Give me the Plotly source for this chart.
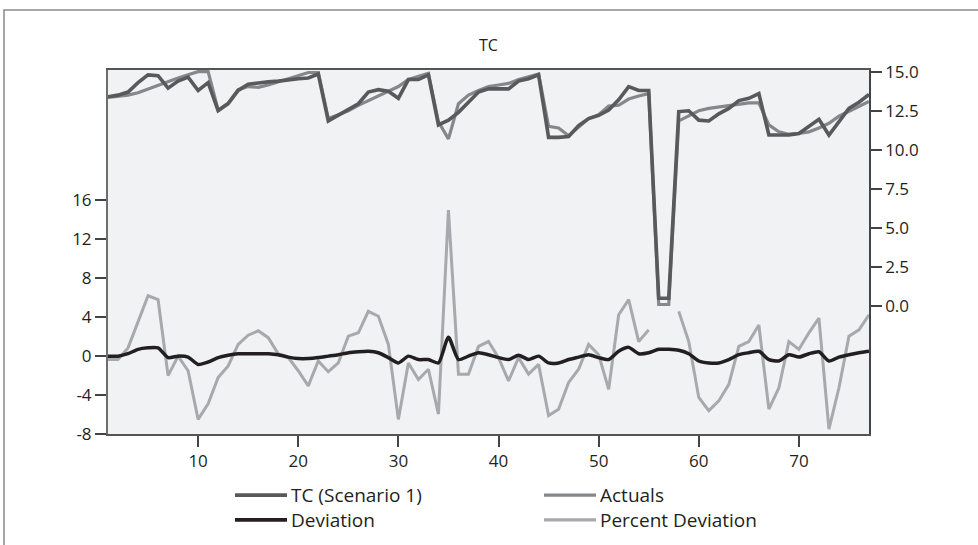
import plotly.graph_objects as go

# ---------------- data ----------------
x_vals = list(range(1, 78))

tc_scenario1 = [
    13.4, 13.5, 13.7, 14.3, 14.8, 14.75, 13.95, 14.4, 14.65, 13.8,
    14.3, 12.5, 12.95, 13.8, 14.2, 14.3, 14.35, 14.4, 14.5, 14.55,
    14.6, 14.85, 11.85, 12.2, 12.6, 12.95, 13.7, 13.85, 13.75, 13.3,
    14.5, 14.5, 14.8, 11.6, 11.9, 12.4, 13.05, 13.7, 13.9, 13.9,
    13.9, 14.4, 14.55, 14.8, 10.8, 10.8, 10.85, 11.55, 12.0, 12.2,
    12.55, 13.2, 14.05, 13.8, 13.8, 0.5, 0.5, 12.45, 12.5, 11.9,
    11.85, 12.3, 12.65, 13.15, 13.3, 13.6, 10.95, 10.95, 10.95, 11.05,
    11.5, 11.95, 10.95, 11.8, 12.65, 13.05, 13.55,
]

actuals = [
    13.35, 13.4, 13.5, 13.65, 13.9, 14.15, 14.35, 14.6, 14.8, 15.0,
    15.0, 12.55, 13.0, 13.85, 14.05, 14.0, 14.15, 14.35, 14.55, 14.8,
    14.95, 14.95, 12.0, 12.25, 12.5, 12.85, 13.15, 13.4, 13.7, 14.05,
    14.5, 14.7, 14.9, 11.8, 10.7, 12.95, 13.5, 13.8, 14.05, 14.15,
    14.25, 14.5, 14.7, 14.85, 11.5, 11.4, 10.9, 11.45, 12.0, 12.25,
    12.8, 12.85, 13.25, 13.45, 13.6, 0.1, 0.1, 11.85, 12.2, 12.5,
    12.65, 12.75, 12.85, 12.95, 13.0, 13.0, 11.6, 11.15, 11.0, 11.05,
    11.15, 11.4, 11.7, 12.15, 12.45, 12.75, 13.1,
]

deviation = [
    0.0, 0.0, 0.25, 0.7, 0.85, 0.85, -0.15, 0.0, -0.1, -0.85,
    -0.6, -0.15, 0.1, 0.25, 0.25, 0.25, 0.25, 0.15, -0.1, -0.25,
    -0.25, -0.15, 0.0, 0.15, 0.35, 0.45, 0.5, 0.35, -0.15, -0.7,
    0.0, -0.35, -0.35, -0.7, 1.95, -0.35, 0.0, 0.35, 0.15, -0.15,
    -0.35, 0.1, -0.35, 0.0, -0.7, -0.7, -0.35, -0.1, 0.15, -0.15,
    -0.35, 0.5, 0.9, 0.25, 0.35, 0.7, 0.7, 0.6, 0.25, -0.5,
    -0.7, -0.7, -0.35, 0.15, 0.35, 0.5, -0.35, -0.5, 0.15, -0.1,
    0.25, 0.45, -0.5, -0.1, 0.15, 0.35, 0.5,
]

percent_deviation = [
    -0.35, -0.35, 0.85, 3.6, 6.2, 5.8, -2.0, 0.0, -1.5, -6.5,
    -4.9, -2.2, -1.0, 1.2, 2.15, 2.6, 1.9, 0.25, -0.15, -1.5,
    -3.05, -0.5, -1.6, -0.7, 2.05, 2.4, 4.6, 4.1, 1.2, -6.5,
    -0.7, -2.4, -1.35, -5.95, 15.0, -1.85, -1.85, 1.0, 1.5, -0.15,
    -2.55, -0.15, -1.85, -0.85, -6.1, -5.45, -2.7, -1.35, 1.2, 0.15,
    -3.4, 4.25, 5.8, 1.5, 2.7, None, None, 4.6, 1.5, -4.25,
    -5.6, -4.6, -2.9, 1.0, 1.5, 3.2, -5.45, -3.25, 1.5, 0.7,
    2.4, 3.9, -7.5, -3.25, 2.05, 2.7, 4.25,
]

x_ticks = [10, 20, 30, 40, 50, 60, 70]
left_ticks = [-8, -4, 0, 4, 8, 12, 16]
left_tick_labels = ["-8", "-4", "0", "4", "8", "12", "16"]
right_ticks = [0, 2.5, 5, 7.5, 10, 12.5, 15]
right_tick_labels = ["0.0", "2.5", "5.0", "7.5", "10.0", "12.5", "15.0"]

series_names = ["TC (Scenario 1)", "Actuals", "Deviation", "Percent Deviation"]

# ---------------- styles ----------------
FONT = "Open Sans"
TXT = "#231f20"
C_TC = "#58595b"
C_ACT = "#86878a"
C_DEV = "#231f20"
C_PCT = "#a7a9ac"

W, H = 978, 545
L, R, T, B = 108, 869, 70, 434


def pxx(v):
    return (v - L) / (R - L)


def pxy(v):
    return (B - v) / (B - T)


fig = go.Figure()

fig.add_trace(go.Scatter(x=x_vals, y=percent_deviation, name=series_names[3], mode="lines",
                         line=dict(color=C_PCT, width=3), connectgaps=False, yaxis="y"))
fig.add_trace(go.Scatter(x=x_vals, y=deviation, name=series_names[2], mode="lines",
                         line=dict(color=C_DEV, width=3.5, shape="spline", smoothing=0.6), yaxis="y"))
fig.add_trace(go.Scatter(x=x_vals, y=actuals, name=series_names[1], mode="lines",
                         line=dict(color=C_ACT, width=3.2), yaxis="y2"))
fig.add_trace(go.Scatter(x=x_vals, y=tc_scenario1, name=series_names[0], mode="lines",
                         line=dict(color=C_TC, width=3.6), yaxis="y2"))

# custom legend: 2 columns x 2 rows
LEG_FONT = 19
row_gap = LEG_FONT * 1.3
row_center = 507.5
rows_y = [row_center - row_gap / 2, row_center + row_gap / 2]
columns = [
    (235, [(series_names[0], C_TC, 3.6), (series_names[2], C_DEV, 3.6)]),
    (544, [(series_names[1], C_ACT, 3.2), (series_names[3], C_PCT, 3.2)]),
]
shapes = []
annotations = []
for lx, items in columns:
    for (name, col, wdt), ly in zip(items, rows_y):
        shapes.append(dict(type="line", xref="paper", yref="paper",
                           x0=pxx(lx), x1=pxx(lx + 52), y0=pxy(ly), y1=pxy(ly),
                           line=dict(color=col, width=wdt)))
    annotations.append(dict(text="<br>".join(n for n, _, _ in items), xref="paper", yref="paper",
                            x=pxx(lx + 54), y=pxy(row_center), xanchor="left", yanchor="middle",
                            align="left", showarrow=False,
                            font=dict(family=FONT, size=LEG_FONT, color=TXT)))

# outer frame
shapes.append(dict(type="rect", xref="paper", yref="paper",
                   x0=pxx(4), x1=pxx(1010), y0=pxy(600), y1=pxy(10),
                   line=dict(color="#8a8a8a", width=1.5), fillcolor="rgba(0,0,0,0)"))

fig.update_layout(
    width=W, height=H,
    margin=dict(l=L, r=W - R, t=T, b=H - B, pad=0),
    paper_bgcolor="white",
    plot_bgcolor="#f1f2f4",
    showlegend=False,
    hovermode=False,
    font=dict(family=FONT, size=17, color=TXT),
    title=dict(text="TC", x=0.5, xref="paper", xanchor="center",
               y=1 - 45 / H, yref="container", yanchor="middle",
               font=dict(family=FONT, size=16, color=TXT)),
    xaxis=dict(range=[1, 77], tickvals=x_ticks, ticks="outside", ticklen=11, tickwidth=1.5,
               tickcolor="#444", showline=True, linecolor="#555", linewidth=1.5, mirror=True,
               showgrid=False, zeroline=False, tickfont=dict(size=17, color=TXT)),
    yaxis=dict(range=[-8, 29.4], tickvals=left_ticks, ticktext=left_tick_labels,
               ticks="outside", ticklen=11, tickwidth=1.5, tickcolor="#444",
               showline=True, linecolor="#6d6e71", linewidth=2,
               showgrid=False, zeroline=False, tickfont=dict(size=17, color=TXT)),
    yaxis2=dict(range=[-8.19, 15.11], overlaying="y", side="right",
                tickvals=right_ticks, ticktext=right_tick_labels,
                ticks="outside", ticklen=11, tickwidth=1.5, tickcolor="#444",
                showline=True, linecolor="#444", linewidth=1.5,
                showgrid=False, zeroline=False, tickfont=dict(size=17, color=TXT)),
    shapes=shapes,
    annotations=annotations,
)

fig.write_html("out.html", config={"displayModeBar": False},
               post_script="document.body.style.margin='0px';")
